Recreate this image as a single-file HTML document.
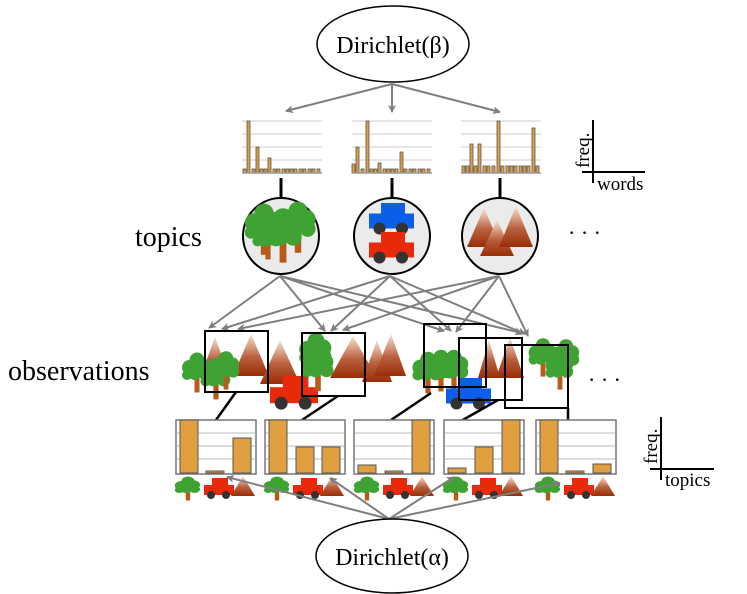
<!DOCTYPE html>
<html><head><meta charset="utf-8"><style>body{margin:0;background:#fff}svg{display:block}</style></head><body>
<svg width="747" height="594" viewBox="0 0 747 594" xmlns="http://www.w3.org/2000/svg" font-family="Liberation Serif, serif">
<defs>
<marker id="ah" markerWidth="8" markerHeight="8" refX="7" refY="4" orient="auto" markerUnits="userSpaceOnUse"><path d="M0,0 L8,4 L0,8 L2,4 Z" fill="#7f7f7f"/></marker>
<linearGradient id="mg" x1="0" y1="0" x2="0" y2="1"><stop offset="0" stop-color="#fbe3d3"/><stop offset="0.55" stop-color="#b8603e"/><stop offset="1" stop-color="#9a2d06"/></linearGradient>
<g id="tree"><rect x="-2" y="4" width="4" height="14" fill="#b85a1a"/><g fill="#3fa333"><circle cx="-6" cy="-2" r="6"/><circle cx="5" cy="-3" r="6"/><circle cx="0" cy="-8" r="6"/><circle cx="-2" cy="3" r="5"/><circle cx="6" cy="3" r="5"/><circle cx="-8" cy="4" r="4"/></g></g>
<g id="car"><rect x="8" y="0" width="16" height="9" fill="#e82a0a"/><rect x="0" y="7" width="30" height="10" fill="#e82a0a"/><circle cx="7" cy="17" r="4" fill="#333"/><circle cx="22" cy="17" r="4" fill="#333"/></g>
<g id="bcar"><rect x="8" y="0" width="16" height="9" fill="#0a5ee8"/><rect x="0" y="7" width="30" height="10" fill="#0a5ee8"/><circle cx="7" cy="17" r="4" fill="#333"/><circle cx="22" cy="17" r="4" fill="#333"/></g>
<polygon id="mtn" points="0,-20 12,0 -12,0" fill="url(#mg)"/>
<g id="chart"><rect x="0" y="0" width="80" height="54" fill="#fff" stroke="#777" stroke-width="1.5"/><g stroke="#bbb"><line x1="1" y1="13" x2="79" y2="13"/><line x1="1" y1="26" x2="79" y2="26"/><line x1="1" y1="39" x2="79" y2="39"/></g></g>
<g id="icons"><use href="#tree" transform="translate(12,9) scale(1.1,0.75)"/><use href="#car" x="28" y="0"/><use href="#mtn" x="67" y="18"/></g>
</defs>

<ellipse cx="393" cy="44" rx="76" ry="38" fill="#fff" stroke="#000" stroke-width="1.5"/>
<text x="393" y="53" font-size="24" text-anchor="middle">Dirichlet(β)</text>
<g stroke="#7f7f7f" stroke-width="2" marker-end="url(#ah)">
<line x1="392" y1="84" x2="286" y2="111"/><line x1="392" y1="84" x2="392" y2="112"/><line x1="392" y1="84" x2="500" y2="112"/>
</g>

<g stroke="#ccc"><line x1="242" y1="121" x2="322" y2="121"/><line x1="242" y1="134" x2="322" y2="134"/><line x1="242" y1="147" x2="322" y2="147"/><line x1="242" y1="160" x2="322" y2="160"/>
<line x1="352" y1="121" x2="432" y2="121"/><line x1="352" y1="134" x2="432" y2="134"/><line x1="352" y1="147" x2="432" y2="147"/><line x1="352" y1="160" x2="432" y2="160"/>
<line x1="461" y1="121" x2="541" y2="121"/><line x1="461" y1="134" x2="541" y2="134"/><line x1="461" y1="147" x2="541" y2="147"/><line x1="461" y1="160" x2="541" y2="160"/></g>
<g fill="#e0a040" stroke="#555" stroke-width="0.8">
<rect x="243" y="169" width="3" height="4"/><rect x="247" y="121" width="3" height="52"/><rect x="252" y="169" width="3" height="4"/><rect x="256" y="147" width="3" height="26"/><rect x="260" y="169" width="3" height="4"/><rect x="264" y="169" width="3" height="4"/><rect x="268" y="158" width="3" height="15"/><rect x="273" y="169" width="3" height="4"/><rect x="277" y="169" width="3" height="4"/><rect x="282" y="169" width="3" height="4"/><rect x="286" y="169" width="3" height="4"/><rect x="290" y="169" width="3" height="4"/><rect x="294" y="169" width="3" height="4"/><rect x="299" y="169" width="3" height="4"/><rect x="303" y="169" width="3" height="4"/><rect x="308" y="169" width="3" height="4"/><rect x="312" y="169" width="3" height="4"/><rect x="317" y="169" width="3" height="4"/>
<rect x="352" y="164" width="3" height="9"/><rect x="356" y="147" width="3" height="26"/><rect x="361" y="169" width="3" height="4"/><rect x="366" y="121" width="3" height="52"/><rect x="370" y="169" width="3" height="4"/><rect x="374" y="169" width="3" height="4"/><rect x="378" y="163" width="3" height="10"/><rect x="383" y="169" width="3" height="4"/><rect x="387" y="169" width="3" height="4"/><rect x="391" y="169" width="3" height="4"/><rect x="395" y="169" width="3" height="4"/><rect x="400" y="152" width="3" height="21"/><rect x="404" y="169" width="3" height="4"/><rect x="409" y="169" width="3" height="4"/><rect x="413" y="169" width="3" height="4"/><rect x="418" y="169" width="3" height="4"/><rect x="422" y="169" width="3" height="4"/><rect x="427" y="169" width="3" height="4"/>
<rect x="462" y="166" width="3" height="7"/><rect x="466" y="166" width="3" height="7"/><rect x="470" y="144" width="3" height="29"/><rect x="474" y="166" width="3" height="7"/><rect x="478" y="144" width="3" height="29"/><rect x="483" y="166" width="3" height="7"/><rect x="487" y="166" width="3" height="7"/><rect x="492" y="166" width="3" height="7"/><rect x="497" y="121" width="3" height="52"/><rect x="501" y="166" width="3" height="7"/><rect x="506" y="166" width="3" height="7"/><rect x="510" y="166" width="3" height="7"/><rect x="514" y="166" width="3" height="7"/><rect x="519" y="166" width="3" height="7"/><rect x="523" y="166" width="3" height="7"/><rect x="527" y="166" width="3" height="7"/><rect x="532" y="128" width="3" height="45"/><rect x="536" y="166" width="3" height="7"/>
</g>
<g stroke="#999" stroke-width="1.5"><line x1="242" y1="173" x2="322" y2="173"/><line x1="352" y1="173" x2="432" y2="173"/><line x1="461" y1="173" x2="541" y2="173"/></g>

<g stroke="#000" stroke-width="2"><line x1="593" y1="120" x2="593" y2="183"/><line x1="582" y1="172" x2="645" y2="172"/><line x1="661" y1="417" x2="661" y2="480"/><line x1="650" y1="469" x2="714" y2="469"/></g>
<text x="597" y="190" font-size="19">words</text>
<text transform="translate(589,168) rotate(-90)" font-size="19">freq.</text>
<text x="665" y="486" font-size="19">topics</text>
<text transform="translate(657,464) rotate(-90)" font-size="19">freq.</text>

<g stroke="#000" stroke-width="3"><line x1="281" y1="178" x2="281" y2="198"/><line x1="392" y1="178" x2="392" y2="198"/><line x1="500" y1="178" x2="500" y2="198"/></g>

<g fill="#ebebeb" stroke="#000" stroke-width="2"><circle cx="281" cy="236" r="38"/><circle cx="392" cy="236" r="38"/><circle cx="500" cy="236" r="38"/></g>
<use href="#tree" transform="translate(264,226) scale(1.6)"/>
<use href="#tree" transform="translate(298,224) scale(1.6)"/>
<use href="#tree" transform="translate(283,232) scale(1.7)"/>
<use href="#tree" transform="translate(268,236) scale(1.3)"/>
<use href="#bcar" transform="translate(369,203) scale(1.5)"/>
<use href="#car" transform="translate(369,232) scale(1.5)"/>
<polygon points="484,208 501,247 467,247" fill="url(#mg)"/>
<polygon points="497,220 514,256 480,256" fill="url(#mg)"/>
<polygon points="516,206 533,247 499,247" fill="url(#mg)"/>

<text x="135" y="246" font-size="28">topics</text>
<text x="568" y="240" font-size="22">· · ·</text>
<text x="8" y="380" font-size="28">observations</text>
<text x="588" y="387" font-size="22">· · ·</text>

<g stroke="#7f7f7f" stroke-width="2" marker-end="url(#ah)">
<line x1="280" y1="276" x2="209" y2="328"/><line x1="280" y1="276" x2="325" y2="331"/><line x1="280" y1="276" x2="444" y2="331"/><line x1="280" y1="276" x2="522" y2="333"/>
<line x1="390" y1="276" x2="222" y2="329"/><line x1="390" y1="276" x2="331" y2="331"/><line x1="390" y1="276" x2="451" y2="331"/><line x1="390" y1="276" x2="525" y2="334"/>
<line x1="499" y1="276" x2="238" y2="329"/><line x1="499" y1="276" x2="343" y2="330"/><line x1="499" y1="276" x2="456" y2="332"/><line x1="499" y1="276" x2="528" y2="336"/>
</g>

<polygon points="215,337 230,378 200,378" fill="url(#mg)"/>
<polygon points="251,334 269,376 233,376" fill="url(#mg)"/>
<polygon points="280,340 300,384 260,384" fill="url(#mg)"/>
<use href="#tree" transform="translate(197,370) scale(1.25)"/>
<use href="#tree" transform="translate(216,376) scale(1.3)"/>
<use href="#tree" transform="translate(226,368) scale(1.2)"/>
<polygon points="353,336 377,378 330,378" fill="url(#mg)"/>
<polygon points="377,340 392,382 362,382" fill="url(#mg)"/>
<polygon points="391,334 406,376 374,376" fill="url(#mg)"/>
<use href="#car" transform="translate(270,376) scale(1.6)"/>
<use href="#tree" transform="translate(316,352) scale(1.4)"/>
<use href="#tree" transform="translate(318,366) scale(1.4)"/>
<polygon points="489,340 500,378 478,378" fill="url(#mg)"/>
<polygon points="510,337 524,378 496,378" fill="url(#mg)"/>
<use href="#tree" transform="translate(428,370) scale(1.3)"/>
<use href="#tree" transform="translate(441,368) scale(1.3)"/>
<use href="#tree" transform="translate(454,368) scale(1.3)"/>
<use href="#bcar" transform="translate(446,378) scale(1.5)"/>
<use href="#tree" transform="translate(543,355) scale(1.2)"/>
<use href="#tree" transform="translate(566,356) scale(1.2)"/>
<use href="#tree" transform="translate(560,368) scale(1.2)"/>

<g fill="none" stroke="#000" stroke-width="2">
<rect x="205" y="331" width="63" height="61"/><rect x="302" y="333" width="63" height="63"/><rect x="424" y="324" width="62" height="63"/><rect x="459" y="338" width="63" height="62"/><rect x="505" y="345" width="63" height="63"/>
</g>
<g stroke="#000" stroke-width="2.5"><line x1="236" y1="392" x2="216" y2="420"/><line x1="338" y1="396" x2="302" y2="420"/><line x1="431" y1="393" x2="391" y2="420"/><line x1="498" y1="400" x2="461" y2="421"/><line x1="568" y1="408" x2="568" y2="420"/></g>

<use href="#chart" x="176" y="420"/><use href="#chart" x="265" y="420"/><use href="#chart" x="354" y="420"/><use href="#chart" x="444" y="420"/><use href="#chart" x="536" y="420"/>
<g fill="#e0a040" stroke="#555" stroke-width="1">
<rect x="180" y="420" width="18" height="53"/><rect x="206" y="471" width="18" height="2"/><rect x="233" y="438" width="18" height="35"/>
<rect x="269" y="420" width="18" height="53"/><rect x="296" y="447" width="18" height="26"/><rect x="322" y="447" width="18" height="26"/>
<rect x="358" y="465" width="18" height="8"/><rect x="385" y="471" width="18" height="2"/><rect x="412" y="420" width="18" height="53"/>
<rect x="448" y="468" width="18" height="5"/><rect x="475" y="447" width="18" height="26"/><rect x="502" y="420" width="18" height="53"/>
<rect x="540" y="420" width="18" height="53"/><rect x="566" y="471" width="18" height="2"/><rect x="593" y="464" width="18" height="9"/>
</g>
<use href="#icons" x="176" y="478"/><use href="#icons" x="265" y="478"/><use href="#icons" x="355" y="478"/><use href="#icons" x="444" y="478"/><use href="#icons" x="536" y="478"/>

<g stroke="#7f7f7f" stroke-width="2" marker-end="url(#ah)">
<line x1="389" y1="519" x2="227" y2="477"/><line x1="389" y1="519" x2="330" y2="478"/><line x1="389" y1="519" x2="454" y2="477"/><line x1="389" y1="519" x2="560" y2="483"/>
</g>
<ellipse cx="392" cy="556" rx="76" ry="37" fill="#fff" stroke="#000" stroke-width="1.5"/>
<text x="392" y="565" font-size="24" text-anchor="middle">Dirichlet(α)</text>
</svg>
</body></html>
